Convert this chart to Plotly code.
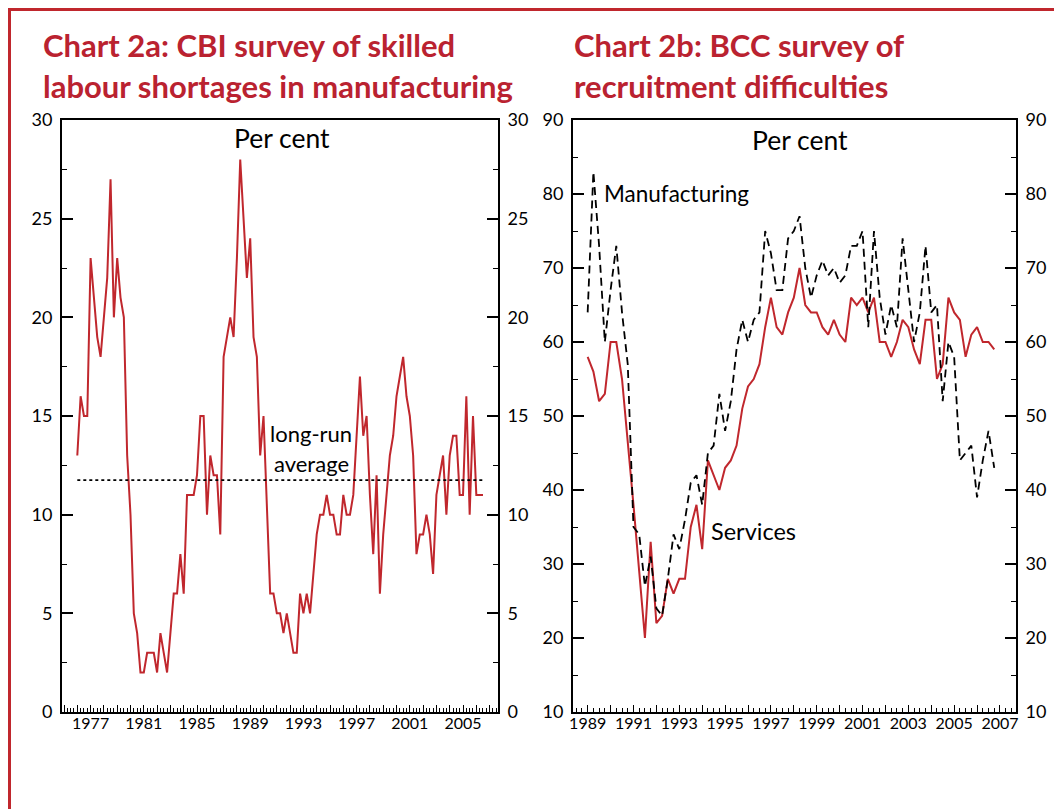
import plotly.graph_objects as go

# ---------------- data ----------------
# Chart 2a: CBI survey, quarterly from 1976 Q1 (per cent)
cbi_start_year = 1976
cbi_values = [
    13, 16, 15, 15,   # 1976
    23, 21, 19, 18,   # 1977
    20, 22, 27, 20,   # 1978
    23, 21, 20, 13,   # 1979
    10, 5, 4, 2,      # 1980
    2, 3, 3, 3,       # 1981
    2, 4, 3, 2,       # 1982
    4, 6, 6, 8,       # 1983
    6, 11, 11, 11,    # 1984
    12, 15, 15, 10,   # 1985
    13, 12, 12, 9,    # 1986
    18, 19, 20, 19,   # 1987
    23, 28, 25, 22,   # 1988
    24, 19, 18, 13,   # 1989
    15, 10, 6, 6,     # 1990
    5, 5, 4, 5,       # 1991
    4, 3, 3, 6,       # 1992
    5, 6, 5, 7,       # 1993
    9, 10, 10, 11,    # 1994
    10, 10, 9, 9,     # 1995
    11, 10, 10, 11,   # 1996
    14, 17, 14, 15,   # 1997
    11, 8, 12, 6,     # 1998
    9, 11, 13, 14,    # 1999
    16, 17, 18, 16,   # 2000
    15, 13, 8, 9,     # 2001
    9, 10, 9, 7,      # 2002
    11, 12, 13, 10,   # 2003
    13, 14, 14, 11,   # 2004
    11, 16, 10, 15,   # 2005
    11, 11, 11,       # 2006
]
cbi_long_run_average = 11.75

# Chart 2b: BCC survey, quarterly from 1989 Q1 (per cent)
bcc_start_year = 1989
bcc_services = [
    58, 56, 52, 53,   # 1989
    60, 60, 55, 47,   # 1990
    38, 29, 20, 33,   # 1991
    22, 23, 28, 26,   # 1992
    28, 28, 35, 38,   # 1993
    32, 44, 42, 40,   # 1994
    43, 44, 46, 51,   # 1995
    54, 55, 57, 62,   # 1996
    66, 62, 61, 64,   # 1997
    66, 70, 65, 64,   # 1998
    64, 62, 61, 63,   # 1999
    61, 60, 66, 65,   # 2000
    66, 64, 66, 60,   # 2001
    60, 58, 60, 63,   # 2002
    62, 59, 57, 63,   # 2003
    63, 55, 57, 66,   # 2004
    64, 63, 58, 61,   # 2005
    62, 60, 60, 59,   # 2006
]
bcc_manufacturing = [
    64, 83, 73, 60,   # 1989
    67, 73, 64, 57,   # 1990
    35, 34, 27, 31,   # 1991
    24, 23, 28, 34,   # 1992
    32, 36, 41, 42,   # 1993
    38, 45, 46, 53,   # 1994
    48, 52, 59, 63,   # 1995
    60, 63, 64, 75,   # 1996
    72, 67, 67, 74,   # 1997
    75, 77, 70, 66,   # 1998
    69, 71, 69, 70,   # 1999
    68, 69, 73, 73,   # 2000
    75, 62, 75, 66,   # 2001
    61, 65, 62, 74,   # 2002
    67, 60, 64, 73,   # 2003
    64, 65, 52, 60,   # 2004
    58, 44, 45, 46,   # 2005
    39, 44, 48, 43,   # 2006
]

left_year_labels = [1977, 1981, 1985, 1989, 1993, 1997, 2001, 2005]
right_year_labels = [1989, 1991, 1993, 1995, 1997, 1999, 2001, 2003, 2005, 2007]
left_y_ticks = [0, 5, 10, 15, 20, 25, 30]
right_y_ticks = [10, 20, 30, 40, 50, 60, 70, 80, 90]

# ---------------- styling ----------------
FONT = "Lato"
RED = "#C0272D"
TITLE_RED = "#BA2230"
W, H = 1062, 809
PAGE_OFFSET = 8  # the page places the figure 8px in from the top-left corner


def quarters(start, n):
    return [start + i / 4 for i in range(n)]


cbi_x = quarters(cbi_start_year, len(cbi_values))
bcc_x = quarters(bcc_start_year, len(bcc_services))

fig = go.Figure()

fig.add_trace(go.Scatter(x=cbi_x, y=cbi_values, mode="lines",
                         line=dict(color=RED, width=2), xaxis="x", yaxis="y",
                         showlegend=False, hoverinfo="skip"))
fig.add_trace(go.Scatter(x=[cbi_x[0], cbi_x[-1]],
                         y=[cbi_long_run_average, cbi_long_run_average],
                         mode="lines", line=dict(color="black", width=1.6, dash="dot"),
                         xaxis="x", yaxis="y2", showlegend=False, hoverinfo="skip"))
fig.add_trace(go.Scatter(x=bcc_x, y=bcc_manufacturing, mode="lines",
                         line=dict(color="black", width=1.8, dash="8px,5px"),
                         xaxis="x2", yaxis="y4", showlegend=False, hoverinfo="skip"))
fig.add_trace(go.Scatter(x=bcc_x, y=bcc_services, mode="lines",
                         line=dict(color=RED, width=2), xaxis="x2", yaxis="y3",
                         showlegend=False, hoverinfo="skip"))


def px_x(p):
    return (p - PAGE_OFFSET) / W


def px_y(p):
    return (H - (p - PAGE_OFFSET)) / H


tickfont_y = dict(family=FONT, size=18, color="black")
tickfont_x = dict(family=FONT, size=16, color="black")


def x_axis(domain, rng, labels, anchor):
    yrs = list(range(int(rng[0]) + 1, int(rng[1]) + 1))
    qtrs = [y + k / 4 for y in range(int(rng[0]), int(rng[1]) + 1) for k in (1, 2, 3)
            if rng[0] < y + k / 4 < rng[1]]
    return dict(domain=domain, range=rng, anchor=anchor, showline=True, linecolor="black",
                linewidth=2, mirror=True, showgrid=False, zeroline=False,
                automargin=False,
                tickmode="array", tickvals=yrs,
                ticktext=[str(y) if y in labels else "" for y in yrs],
                ticks="inside", ticklen=7, tickwidth=1.3, tickcolor="black",
                tickfont=tickfont_x, ticklabelstandoff=-4,
                minor=dict(tickmode="array", tickvals=qtrs, ticks="inside", ticklen=4,
                           tickwidth=1, tickcolor="black"))


def y_axis(domain, rng, tickvals, anchor, side, overlaying=None):
    d = dict(domain=domain, range=rng, anchor=anchor, side=side, showline=True,
             linecolor="black", linewidth=2, showgrid=False, zeroline=False,
             automargin=False,
             tickmode="array", tickvals=tickvals, ticks="inside", ticklen=11,
             tickwidth=1.5, tickcolor="black", tickfont=tickfont_y,
             ticklabelstandoff=4,
             minor=dict(tickmode="linear", tick0=rng[0], dtick=(tickvals[1] - tickvals[0]) / 2,
                        ticks="inside", ticklen=5, tickwidth=1.3, tickcolor="black"))
    if overlaying:
        d["overlaying"] = overlaying
    return d


ydom = [px_y(712), px_y(120)]
left_dom = [px_x(62), px_x(498)]
right_dom = [px_x(573), px_x(1016)]

fig.update_layout(
    width=W, height=H, margin=dict(l=0, r=0, t=0, b=0, pad=0, autoexpand=False),
    paper_bgcolor="white", plot_bgcolor="white",
    font=dict(family=FONT, color="black"),
    xaxis=x_axis(left_dom, [1974.85, 2007.63], left_year_labels, "y"),
    yaxis=y_axis(ydom, [0, 30], left_y_ticks, "x", "left"),
    yaxis2=y_axis(ydom, [0, 30], left_y_ticks, "x", "right", overlaying="y"),
    xaxis2=x_axis(right_dom, [1988.36, 2007.7], right_year_labels, "y3"),
    yaxis3=y_axis(ydom, [10, 90], right_y_ticks, "x2", "left"),
    yaxis4=y_axis(ydom, [10, 90], right_y_ticks, "x2", "right", overlaying="y3"),
)

ann = []


def text(x, y, s, size, color="black", bold=False, xanchor="left"):
    ann.append(dict(x=px_x(x), y=px_y(y), xref="paper", yref="paper", text=s,
                    showarrow=False, xanchor=xanchor, yanchor="middle",
                    font=dict(family=FONT, size=size, color=color,
                              weight="bold" if bold else "normal")))


text(41, 45, "Chart 2a: CBI survey of skilled", 31, TITLE_RED, True)
text(41, 86, "labour shortages in manufacturing", 31, TITLE_RED, True)
text(572, 45, "Chart 2b: BCC survey of", 31, TITLE_RED, True)
text(572, 86, "recruitment difficulties", 31, TITLE_RED, True)
text(282, 138, "Per cent", 26.5, xanchor="center")
text(800, 140, "Per cent", 26.5, xanchor="center")
text(311, 433, "long-run", 22, xanchor="center")
text(311, 464, "average", 22, xanchor="center")
text(602, 193, "Manufacturing", 22.5)
text(709, 531, "Services", 23.5)

fig.update_layout(annotations=ann)

# red frame (left, top and right edges)
fx0, fx1, fy = px_x(9.5), px_x(1060), px_y(9.5)
fig.add_shape(type="path", xref="paper", yref="paper",
              path=f"M {fx0},-0.05 L {fx0},{fy} L {fx1},{fy} L {fx1},-0.05",
              line=dict(color=RED, width=3))

fig.write_html("out.html")
